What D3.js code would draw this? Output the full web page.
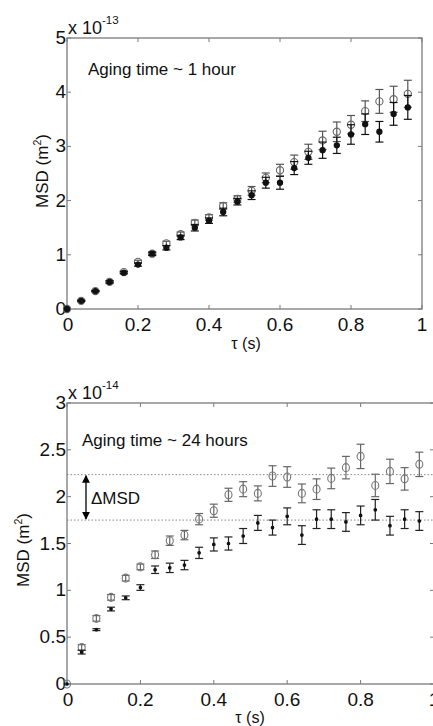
<!doctype html>
<html lang="en">
<head>
<meta charset="UTF-8">
<title>MSD aging</title>
<script src="https://d3js.org/d3.v7.min.js"></script>
<style>
    body { margin: 0; background: #fff; }
    svg { display: block; }
    text { font-family: Arial, "Liberation Sans", sans-serif; fill: #111; }
</style>
</head>
<body>
<svg id="chart" width="433" height="726"></svg>
<script>
// lag times (s)
var tau = [0, 0.04, 0.08, 0.12, 0.16, 0.20, 0.24, 0.28, 0.32, 0.36, 0.40, 0.44, 0.48,
    0.52, 0.56, 0.60, 0.64, 0.68, 0.72, 0.76, 0.80, 0.84, 0.88, 0.92, 0.96];

// aging time ~ 1 hour (units of 1e-13 m^2)
var open1h = [0, 0.15, 0.33, 0.50, 0.68, 0.87, 1.02, 1.21, 1.38, 1.59, 1.69, 1.90, 2.03,
    2.18, 2.42, 2.56, 2.71, 2.90, 3.11, 3.27, 3.40, 3.65, 3.83, 3.87, 3.97];
var open1hErr = [0, 0.01, 0.01, 0.02, 0.02, 0.03, 0.03, 0.04, 0.04, 0.05, 0.05, 0.06, 0.06,
    0.08, 0.09, 0.11, 0.13, 0.14, 0.17, 0.18, 0.17, 0.19, 0.22, 0.24, 0.25];
var filled1h = [0, 0.15, 0.33, 0.50, 0.67, 0.82, 1.02, 1.13, 1.32, 1.50, 1.63, 1.79, 1.98,
    2.10, 2.33, 2.33, 2.60, 2.79, 2.93, 3.02, 3.22, 3.41, 3.27, 3.60, 3.72];
var filled1hErr = [0, 0.01, 0.01, 0.02, 0.02, 0.03, 0.03, 0.04, 0.04, 0.06, 0.05, 0.07, 0.06,
    0.08, 0.10, 0.12, 0.12, 0.12, 0.15, 0.15, 0.18, 0.19, 0.19, 0.21, 0.22];

// aging time ~ 24 hours (units of 1e-14 m^2)
var open24h = [0, 0.39, 0.70, 0.925, 1.13, 1.25, 1.38, 1.53, 1.59, 1.76, 1.85, 2.02, 2.08,
    2.035, 2.22, 2.21, 2.035, 2.08, 2.195, 2.31, 2.43, 2.12, 2.27, 2.19, 2.345];
var open24hErr = [0, 0.03, 0.03, 0.03, 0.03, 0.03, 0.04, 0.05, 0.05, 0.06, 0.07, 0.07, 0.08,
    0.08, 0.11, 0.11, 0.10, 0.11, 0.11, 0.12, 0.13, 0.12, 0.13, 0.12, 0.13];
var filled24h = [0, 0.34, 0.58, 0.80, 0.92, 1.03, 1.22, 1.24, 1.27, 1.40, 1.49, 1.50, 1.58,
    1.72, 1.67, 1.79, 1.59, 1.76, 1.76, 1.73, 1.80, 1.86, 1.69, 1.76, 1.74];
var filled24hErr = [0, 0.02, 0.01, 0.02, 0.02, 0.03, 0.04, 0.05, 0.05, 0.06, 0.07, 0.07, 0.08,
    0.08, 0.08, 0.09, 0.10, 0.10, 0.10, 0.10, 0.10, 0.11, 0.10, 0.10, 0.10];

var xTicks = [0, 0.2, 0.4, 0.6, 0.8, 1];
var yTicks1h = [0, 1, 2, 3, 4, 5];
var yTicks24h = [0, 0.5, 1, 1.5, 2, 2.5, 3];
var deltaLines = [2.235, 1.75];

var svg = d3.select("#chart");

svg.append("defs").append("marker")
    .attr("id", "arrowhead")
    .attr("viewBox", "0 0 10 10")
    .attr("refX", 9).attr("refY", 5)
    .attr("markerWidth", 6).attr("markerHeight", 7)
    .attr("orient", "auto-start-reverse")
    .append("path")
    .attr("d", "M0,0 L10,5 L0,10 Z")
    .attr("fill", "#000");

function drawPanel(p) {
    var x = d3.scaleLinear().domain([0, 1]).range([p.left, p.right]);
    var y = d3.scaleLinear().domain(p.yDomain).range([p.bottom, p.top]);
    var g = svg.append("g");
    var axisColor = "#7a7a7a";

    // frame
    g.append("rect")
        .attr("x", p.left).attr("y", p.top)
        .attr("width", p.right - p.left).attr("height", p.bottom - p.top)
        .attr("fill", "none").attr("stroke", axisColor).attr("stroke-width", 1.3);

    // inward ticks on all sides
    var tl = 4;
    xTicks.forEach(function (t) {
        g.append("line").attr("x1", x(t)).attr("x2", x(t))
            .attr("y1", p.bottom).attr("y2", p.bottom - tl).attr("stroke", axisColor);
        g.append("line").attr("x1", x(t)).attr("x2", x(t))
            .attr("y1", p.top).attr("y2", p.top + tl).attr("stroke", axisColor);
        g.append("text").attr("x", x(t) + (t === 0 ? 1 : 0)).attr("y", p.bottom + 22)
            .attr("text-anchor", "middle").attr("font-size", 19).text(t);
    });
    p.yTicks.forEach(function (t) {
        g.append("line").attr("x1", p.left).attr("x2", p.left + tl)
            .attr("y1", y(t)).attr("y2", y(t)).attr("stroke", axisColor);
        g.append("line").attr("x1", p.right).attr("x2", p.right - tl)
            .attr("y1", y(t)).attr("y2", y(t)).attr("stroke", axisColor);
        g.append("text").attr("x", p.left - 1).attr("y", y(t) + 6)
            .attr("text-anchor", "end").attr("font-size", 19).text(t);
    });

    // exponent
    var ex = g.append("text").attr("x", p.left + 1).attr("y", p.top - 4).attr("font-size", 18);
    ex.append("tspan").text("x 10");
    ex.append("tspan").attr("dy", -10).attr("font-size", 11.5).text(p.exponent);

    // axis labels
    var yl = g.append("text")
        .attr("transform", "translate(" + p.yLabelX + "," + p.yLabelY + ") rotate(-90)")
        .attr("text-anchor", "middle").attr("font-size", 17);
    yl.append("tspan").text(p.yLabelText);
    yl.append("tspan").attr("dy", -7).attr("font-size", 10.5).text("2");
    yl.append("tspan").attr("dy", 7).text(")");

    g.append("text").attr("x", p.xLabelX).attr("y", p.xLabelY)
        .attr("text-anchor", "middle").attr("font-size", 16).text("τ (s)");

    g.append("text").attr("x", p.titleX).attr("y", p.titleY)
        .attr("font-size", 17).text(p.title);

    if (p.extra) p.extra(g, x, y);

    // error bars + markers
    p.series.forEach(function (s) {
        var rows = tau.map(function (t, i) { return {t: t, v: s.values[i], e: s.err[i]}; });
        var eb = g.append("g").attr("stroke", s.barColor).attr("stroke-width", 1.2);
        rows.forEach(function (d) {
            if (d.e <= 0) return;
            eb.append("line").attr("x1", x(d.t)).attr("x2", x(d.t))
                .attr("y1", y(d.v - d.e)).attr("y2", y(d.v + d.e));
            [d.v - d.e, d.v + d.e].forEach(function (v) {
                eb.append("line").attr("x1", x(d.t) - 4).attr("x2", x(d.t) + 4)
                    .attr("y1", y(v)).attr("y2", y(v));
            });
        });
        g.append("g").selectAll("ellipse")
            .data(rows)
            .enter()
            .append("ellipse")
            .attr("cx", function (d) { return x(d.t); })
            .attr("cy", function (d) { return y(d.v); })
            .attr("rx", s.rx).attr("ry", s.ry)
            .attr("fill", s.fill)
            .attr("stroke", s.stroke)
            .attr("stroke-width", 1.1);
    });
}

drawPanel({
    left: 67, right: 422, top: 38, bottom: 309,
    yDomain: [0, 5], yTicks: yTicks1h, exponent: "-13",
    yLabelText: "MSD  (m", yLabelX: 48, yLabelY: 171,
    xLabelX: 246, xLabelY: 349,
    title: "Aging time ~ 1 hour", titleX: 88, titleY: 75,
    series: [
        {values: open1h, err: open1hErr, rx: 3.6, ry: 3.6, fill: "none", stroke: "#666", barColor: "#555"},
        {values: filled1h, err: filled1hErr, rx: 2.6, ry: 2.6, fill: "#111", stroke: "#111", barColor: "#111"}
    ]
});

drawPanel({
    left: 67, right: 434, top: 403, bottom: 684,
    yDomain: [0, 3], yTicks: yTicks24h, exponent: "-14",
    yLabelText: "MSD (m", yLabelX: 29, yLabelY: 550,
    xLabelX: 250, xLabelY: 723,
    title: "Aging time ~ 24 hours", titleX: 82, titleY: 446,
    extra: function (g, x, y) {
        deltaLines.forEach(function (v) {
            g.append("line").attr("x1", x(0)).attr("x2", x(1))
                .attr("y1", y(v)).attr("y2", y(v))
                .attr("stroke", "#888").attr("stroke-width", 1)
                .attr("stroke-dasharray", "1.5,2");
        });
        g.append("line")
            .attr("x1", 86).attr("x2", 86)
            .attr("y1", y(deltaLines[0]) + 1).attr("y2", y(deltaLines[1]) - 1)
            .attr("stroke", "#000").attr("stroke-width", 1.3)
            .attr("marker-start", "url(#arrowhead)")
            .attr("marker-end", "url(#arrowhead)");
        g.append("text").attr("x", 91).attr("y", 504)
            .attr("font-size", 17).text("ΔMSD");
    },
    series: [
        {values: open24h, err: open24hErr, rx: 3.5, ry: 4, fill: "none", stroke: "#777", barColor: "#666"},
        {values: filled24h, err: filled24hErr, rx: 1.3, ry: 1.3, fill: "#111", stroke: "#111", barColor: "#222"}
    ]
});
</script>
</body>
</html>
